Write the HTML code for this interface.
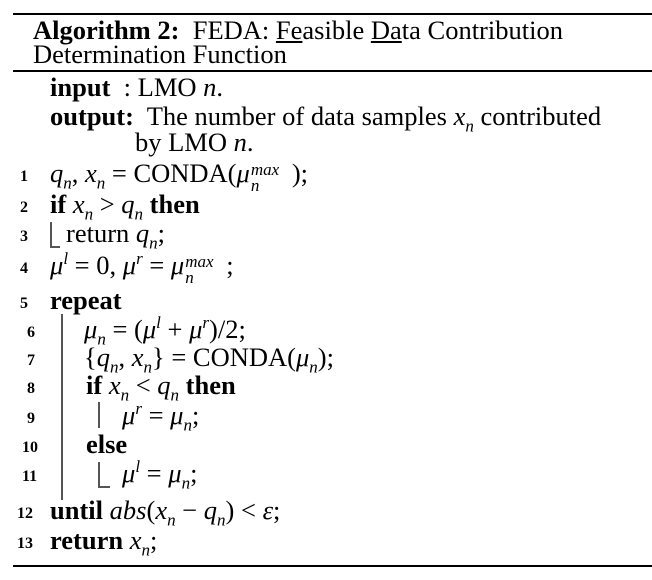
<!DOCTYPE html>
<html><head><style>
body{margin:0;width:652px;height:580px;background:#fff;position:relative;overflow:hidden;font-family:"Liberation Serif",serif;color:#000}
.l{position:absolute;font-size:26.5px;line-height:24px;white-space:nowrap}
.n{position:absolute;font-size:16px;font-weight:bold;line-height:16px}
.r{position:absolute;left:13px;right:0;background:#000}
.v{position:absolute;width:2px;background:#555}
.h{position:absolute;height:2px;background:#555}
i{font-style:italic}
b{font-weight:bold}
sub,sup{font-size:17px;line-height:0}
.ss{display:inline-block;position:relative;width:42px;height:10px}
.ss .a{position:absolute;left:1px;top:-14px;font-size:17px;font-style:italic}
.ss .b{position:absolute;left:1px;top:2px;font-size:17px;font-style:italic}
</style></head><body>
<div class="r" style="top:13px;height:2px"></div>
<div class="r" style="top:70px;height:2px"></div>
<div class="r" style="top:565px;height:2px"></div>
<div class="l" style="left:33px;top:18px"><b>Algorithm 2:</b>&nbsp; FEDA: <u>Fe</u>asible <u>Da</u>ta Contribution</div>
<div class="l" style="left:33px;top:42px">Determination Function</div>
<div class="l" style="left:50px;top:75px"><b>input</b>&nbsp; : LMO <i>n</i>.</div>
<div class="l" style="left:50px;top:104px"><b>output:</b>&nbsp; The number of data samples <i>x<sub>n</sub></i> contributed</div>
<div class="l" style="left:135px;top:130px">by LMO <i>n</i>.</div>
<div class="n" style="left:20px;top:169px">1</div><div class="l" style="left:50px;top:161px"><i>q<sub>n</sub></i>, <i>x<sub>n</sub></i> = CONDA(<i>μ</i><span class="ss"><span class="a">max</span><span class="b">n</span></span>);</div>
<div class="n" style="left:20px;top:200px">2</div><div class="l" style="left:50px;top:192px"><b>if</b> <i>x<sub>n</sub></i> &gt; <i>q<sub>n</sub></i> <b>then</b></div>
<div class="n" style="left:20px;top:229px">3</div><div class="v" style="left:50px;top:222px;height:26px"></div><div class="h" style="left:50px;top:246px;width:10px"></div><div class="l" style="left:66px;top:221px">return <i>q<sub>n</sub></i>;</div>
<div class="n" style="left:20px;top:261px">4</div><div class="l" style="left:50px;top:253px"><i>μ<sup>l</sup></i> = 0, <i>μ<sup>r</sup></i> = <i>μ</i><span class="ss"><span class="a">max</span><span class="b">n</span></span>;</div>
<div class="n" style="left:20px;top:296px">5</div><div class="l" style="left:50px;top:288px"><b>repeat</b></div>
<div class="v" style="left:61px;top:314px;height:186px"></div>
<div class="n" style="left:27px;top:325px">6</div><div class="l" style="left:84px;top:317px"><i>μ<sub>n</sub></i> = (<i>μ<sup>l</sup></i> + <i>μ<sup>r</sup></i>)/2;</div>
<div class="n" style="left:27px;top:353px">7</div><div class="l" style="left:84px;top:345px">{<i>q<sub>n</sub></i>, <i>x<sub>n</sub></i>} = CONDA(<i>μ<sub>n</sub></i>);</div>
<div class="n" style="left:27px;top:381px">8</div><div class="l" style="left:86px;top:373px"><b>if</b> <i>x<sub>n</sub></i> &lt; <i>q<sub>n</sub></i> <b>then</b></div>
<div class="n" style="left:27px;top:411px">9</div><div class="v" style="left:98px;top:402px;height:26px"></div><div class="l" style="left:122px;top:403px"><i>μ<sup>r</sup></i> = <i>μ<sub>n</sub></i>;</div>
<div class="n" style="left:22px;top:440px">10</div><div class="l" style="left:86px;top:432px"><b>else</b></div>
<div class="n" style="left:22px;top:469px">11</div><div class="v" style="left:98px;top:462px;height:26px"></div><div class="h" style="left:98px;top:486px;width:12px"></div><div class="l" style="left:122px;top:461px"><i>μ<sup>l</sup></i> = <i>μ<sub>n</sub></i>;</div>
<div class="n" style="left:17px;top:506px">12</div><div class="l" style="left:50px;top:498px"><b>until</b> <i>abs</i>(<i>x<sub>n</sub></i> − <i>q<sub>n</sub></i>) &lt; <i>ε</i>;</div>
<div class="n" style="left:17px;top:536px">13</div><div class="l" style="left:50px;top:528px"><b>return</b> <i>x<sub>n</sub></i>;</div>
</body></html>
